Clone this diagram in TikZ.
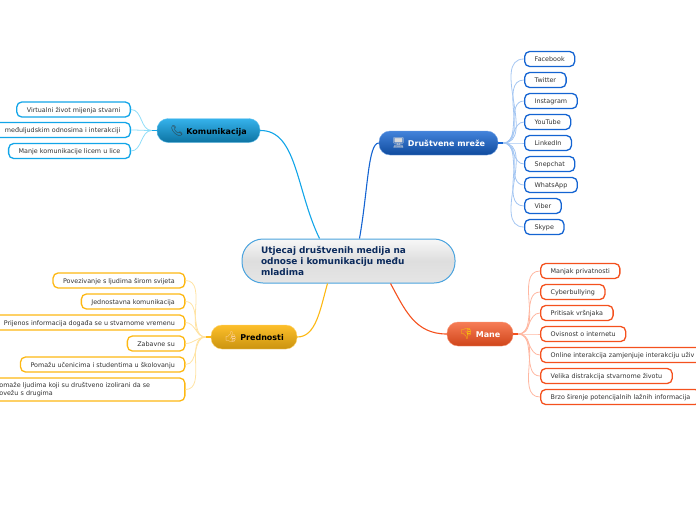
\documentclass[tikz,border=0pt]{standalone}
\usepackage{fontspec}
\setmainfont{DejaVu Sans}
\newfontfamily\emojifont{Noto Emoji}
\usetikzlibrary{shapes}
\usetikzlibrary{arrows}
\usetikzlibrary{positioning}
\usetikzlibrary{calc}
\definecolor{navy}{HTML}{0B2A5C}
\definecolor{textgrey}{HTML}{333333}
\definecolor{rootline}{HTML}{4AA3DE}
\definecolor{skyline}{HTML}{12A5E8}
\definecolor{skylight}{HTML}{8FDDF8}
\definecolor{blueline}{HTML}{1464D2}
\definecolor{bluelight}{HTML}{A4C6F2}
\definecolor{orangeline}{HTML}{F4511E}
\definecolor{orangelight}{HTML}{FFB7A1}
\definecolor{goldline}{HTML}{FDB813}
\definecolor{goldlight}{HTML}{FFE3A3}
\newcommand{\topicicon}[2]{{\emojifont\fontsize{10.5}{10}\selectfont\color{#1}\char"#2}}
\begin{document}
\begin{tikzpicture}[x=1pt,y=-1pt]
\useasboundingbox (0,0) rectangle (696,520);
\tikzstyle{root}=[
        draw=rootline,
        line width=1pt,
        rounded corners=21pt,
        top color=black!3,
        bottom color=black!10,
        middle color=black!13,
        minimum width=213pt,
        minimum height=44pt,
        text=navy,
        font=\bfseries\fontsize{8.95}{11}\selectfont,
        align=left,
        text width=175pt
]
\tikzstyle{topic}=[
        rounded corners=11pt,
        minimum height=24pt,
        font=\bfseries\fontsize{8}{10}\selectfont
]
\tikzstyle{skytopic}=[topic,draw=skyline!60,top color=skyline!85,bottom color=skyline!70!black,text=black,minimum width=103pt]
\tikzstyle{bluetopic}=[topic,draw=blueline!60,top color=blueline!80,bottom color=blueline!75!black,text=white,minimum width=119pt]
\tikzstyle{orangetopic}=[topic,draw=orangeline!60,top color=orangeline!75,bottom color=orangeline!85!black,text=white,minimum width=66pt]
\tikzstyle{goldtopic}=[topic,draw=goldline!60,top color=goldline!90,bottom color=goldline!80!black,text=black,minimum width=86pt]
\tikzstyle{leaf}=[
        draw,
        line width=1.3pt,
        fill=white,
        rounded corners=5pt,
        minimum height=15pt,
        inner xsep=10pt,
        inner ysep=2pt,
        text=textgrey,
        font=\fontsize{6.4}{8}\selectfont
]
\tikzstyle{oneline}=[text height=5.2pt,text depth=0.2pt]
\tikzstyle{skyleaf}=[leaf,oneline,draw=skyline,anchor=east]
\tikzstyle{blueleaf}=[leaf,oneline,draw=blueline,anchor=west]
\tikzstyle{orangeleaf}=[leaf,oneline,draw=orangeline,anchor=west]
\tikzstyle{goldleaf}=[leaf,draw=goldline,anchor=east]
%placement of the nodes
\node[root] (centre) at (348.5,261) {Utjecaj društvenih medija na\\odnose i komunikaciju među\\mladima};
\node[skytopic] (komunikacija) at (208.5,130.5) {\topicicon{black!80}{1F4DE}\ Komunikacija};
\node[bluetopic] (mreze) at (438.5,143) {\topicicon{black!15}{1F5A5}\ Društvene mreže};
\node[orangetopic] (mane) at (480,334) {\topicicon{yellow!60!orange}{1F44E}\ Mane};
\node[goldtopic] (prednosti) at (254,337) {\topicicon{orange!35!white}{1F44D}\ Prednosti};
\node[skyleaf] (k1) at (131,109.5) {Virtualni život mijenja stvarni};
\node[skyleaf] (k2) at (131,130) {međuljudskim odnosima i interakciji};
\node[skyleaf] (k3) at (131,151) {Manje komunikacije licem u lice};
\node[blueleaf] (d1) at (524,59) {Facebook};
\node[blueleaf] (d2) at (524,80) {Twitter};
\node[blueleaf] (d3) at (524,101) {Instagram};
\node[blueleaf] (d4) at (524,122) {YouTube};
\node[blueleaf] (d5) at (524,143) {LinkedIn};
\node[blueleaf] (d6) at (524,164) {Snepchat};
\node[blueleaf] (d7) at (524,185) {WhatsApp};
\node[blueleaf] (d8) at (524,206) {Viber};
\node[blueleaf] (d9) at (524,227) {Skype};
\node[orangeleaf] (m1) at (540,271) {Manjak privatnosti};
\node[orangeleaf] (m2) at (540,292) {Cyberbullying};
\node[orangeleaf] (m3) at (540,313) {Pritisak vršnjaka};
\node[orangeleaf] (m4) at (540,334) {Ovisnost o internetu};
\node[orangeleaf] (m5) at (540,355) {Online interakcija zamjenjuje interakciju uživ};
\node[orangeleaf] (m6) at (540,376) {Velika distrakcija stvarnome životu};
\node[orangeleaf] (m7) at (540,397) {Brzo širenje potencijalnih lažnih informacija};
\node[goldleaf,oneline] (p1) at (185.5,280.5) {Povezivanje s ljudima širom svijeta};
\node[goldleaf,oneline] (p2) at (185.5,301.5) {Jednostavna komunikacija};
\node[goldleaf,oneline] (p3) at (185.5,322.5) {Prijenos informacija događa se u stvarnome vremenu};
\node[goldleaf,oneline] (p4) at (185.5,343.5) {Zabavne su};
\node[goldleaf,oneline] (p5) at (185.5,364.5) {Pomažu učenicima i studentima u školovanju};
\node[goldleaf,text width=175.5pt,align=left,minimum height=23pt] (p6) at (185.5,389.5) {omaže ljudima koji su društveno izolirani da se\\ovežu s drugima};
%placement of the connectors
\draw[skyline,line width=1.1pt] (komunikacija.east) .. controls (297,130) and (296,190) .. ([xshift=-29]centre.north);
\draw[blueline,line width=1.1pt] (mreze.west) .. controls (368,143) and (368,190) .. ([xshift=11]centre.north);
\draw[goldline,line width=1.1pt] (prednosti.east) .. controls (316,337) and (320,310) .. ([xshift=-21]centre.south);
\draw[orangeline,line width=1.1pt] (mane.west) .. controls (415,334) and (405,310) .. ([xshift=42]centre.south);
\coordinate (komstub) at ([xshift=-5]komunikacija.west);
\coordinate (mrezestub) at ([xshift=5]mreze.east);
\coordinate (manestub) at ([xshift=5]mane.east);
\coordinate (predstub) at ([xshift=-5]prednosti.west);
\draw[skyline,line width=1.2pt] (komunikacija.west) -- (komstub);
\draw[blueline,line width=1.2pt] (mreze.east) -- (mrezestub);
\draw[orangeline,line width=1.2pt] (mane.east) -- (manestub);
\draw[goldline,line width=1.2pt] (prednosti.west) -- (predstub);
\foreach \leafname in {k1,k2,k3}
        \draw[skylight,thick] (komstub) to[out=180,in=0] (\leafname.east);
\foreach \leafname in {d1,d2,d3,d4,d5,d6,d7,d8,d9}
        \draw[bluelight,thick] (mrezestub) to[out=0,in=180] (\leafname.west);
\foreach \leafname in {m1,m2,m3,m4,m5,m6,m7}
        \draw[orangelight,thick] (manestub) to[out=0,in=180] (\leafname.west);
\foreach \leafname in {p1,p2,p3,p4,p5,p6}
        \draw[goldlight,thick] (predstub) to[out=180,in=0] (\leafname.east);
\end{tikzpicture}
\end{document}
